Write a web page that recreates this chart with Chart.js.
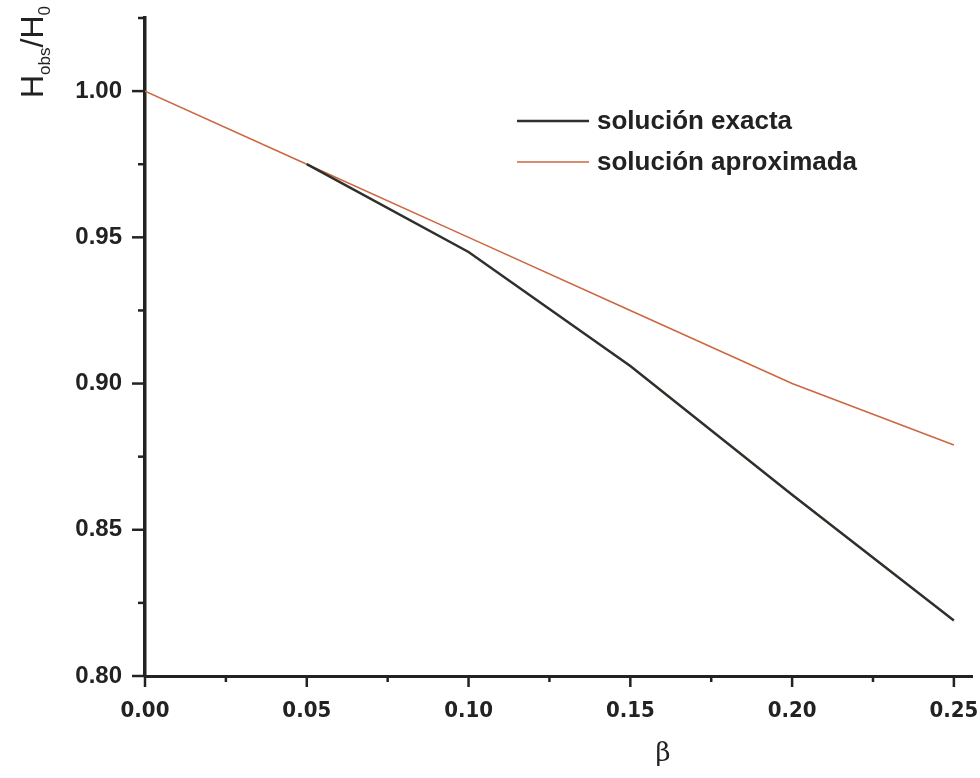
<!DOCTYPE html>
<html>
<head>
<meta charset="utf-8">
<script src="https://cdn.jsdelivr.net/npm/chart.js@4.4.0/dist/chart.umd.min.js"></script>
<style>
  html, body { margin: 0; padding: 0; background: #fff; }
  #wrap { width: 980px; height: 778px; }
</style>
</head>
<body>
<div id="wrap"><canvas id="grafico" width="980" height="778"></canvas></div>
<script>
// valores
const betaExacta = [0.05, 0.10, 0.15, 0.20, 0.25]
const hExacta = [0.975, 0.945, 0.906, 0.862, 0.819]
const betaAprox = [0.00, 0.05, 0.10, 0.15, 0.20, 0.25]
const hAprox = [1.000, 0.975, 0.950, 0.925, 0.900, 0.879]
const etiquetas = ['solución exacta', 'solución aproximada']
const colores = ['#2f302b', '#cc6640']

const ejeColor = '#222'

// ticks del eje (mayores y menores) dibujados a mano
const ticksPlugin = {
  id: 'ticksMenores',
  afterDraw(chart) {
    const ctx = chart.ctx
    const x = chart.scales.x
    const y = chart.scales.y
    const a = chart.chartArea
    ctx.save()
    ctx.strokeStyle = ejeColor
    ctx.lineWidth = 2.5
    for (let i = 0; i <= 10; i++) {
      const v = i * 0.025
      const px = x.getPixelForValue(v)
      const len = i % 2 == 0 ? 11 : 6
      ctx.beginPath()
      ctx.moveTo(px, a.bottom)
      ctx.lineTo(px, a.bottom + len)
      ctx.stroke()
    }
    for (let i = 0; i <= 9; i++) {
      const v = 0.80 + i * 0.025
      const py = y.getPixelForValue(v)
      const len = i % 2 == 0 ? 13 : 7
      ctx.beginPath()
      ctx.moveTo(a.left, py)
      ctx.lineTo(a.left - len, py)
      ctx.stroke()
    }
    ctx.restore()
  }
}

// titulos y leyenda
const textosPlugin = {
  id: 'textos',
  afterDraw(chart) {
    const ctx = chart.ctx
    ctx.save()
    ctx.fillStyle = ejeColor

    // titulo eje y: H_obs/H_0 girado
    ctx.translate(43, 98)
    ctx.rotate(-Math.PI / 2)
    ctx.textBaseline = 'alphabetic'
    ctx.textAlign = 'left'
    let cx = 0
    const partes = [['H', 32, 0], ['obs', 17, 7], ['/', 32, 0], ['H', 32, 0], ['0', 17, 7]]
    partes.forEach(p => {
      ctx.font = p[1] + 'px "Liberation Sans", Arial, sans-serif'
      ctx.fillText(p[0], cx, p[2])
      cx += ctx.measureText(p[0]).width
    })
    ctx.restore()

    // titulo eje x
    ctx.save()
    ctx.fillStyle = ejeColor
    ctx.font = '26px "DejaVu Serif", serif'
    ctx.textAlign = 'center'
    ctx.textBaseline = 'middle'
    ctx.fillText('β', 663, 754)

    // leyenda
    const filas = [121, 162]
    ctx.font = 'bold 26px "Liberation Sans", Arial, sans-serif'
    ctx.textAlign = 'left'
    chart.data.datasets.forEach((ds, i) => {
      ctx.strokeStyle = ds.borderColor
      ctx.lineWidth = ds.borderWidth
      ctx.beginPath()
      ctx.moveTo(517, filas[i])
      ctx.lineTo(589, filas[i])
      ctx.stroke()
      ctx.fillStyle = ejeColor
      ctx.fillText(ds.label, 597, filas[i] + 1)
    })
    ctx.restore()
  }
}

new Chart(document.getElementById('grafico'), {
  type: 'line',
  data: {
    datasets: [
      {
        label: etiquetas[0],
        data: betaExacta.map((b, i) => ({x: b, y: hExacta[i]})),
        borderColor: colores[0],
        borderWidth: 2.5,
        pointRadius: 0,
        tension: 0
      },
      {
        label: etiquetas[1],
        data: betaAprox.map((b, i) => ({x: b, y: hAprox[i]})),
        borderColor: colores[1],
        borderWidth: 1.5,
        pointRadius: 0,
        tension: 0
      }
    ]
  },
  options: {
    responsive: false,
    animation: false,
    layout: { padding: { top: 18, right: 8, left: 0, bottom: 0 } },
    plugins: {
      legend: { display: false },
      tooltip: { enabled: false }
    },
    scales: {
      x: {
        type: 'linear',
        min: 0,
        max: 0.2556,
        afterFit: (s) => { s.height = 102; s.paddingLeft = 0; s.paddingRight = 0 },
        grid: { display: false, drawTicks: false },
        border: { display: true, color: ejeColor, width: 3 },
        ticks: {
          stepSize: 0.05,
          includeBounds: false,
          padding: 22,
          color: ejeColor,
          maxRotation: 0,
          font: { family: '"DejaVu Sans Condensed", "Liberation Sans", Arial, sans-serif', weight: 'bold', size: 22 },
          callback: (v) => v.toFixed(2)
        }
      },
      y: {
        type: 'linear',
        min: 0.80,
        max: 1.025,
        afterFit: (s) => { s.width = 145; s.paddingTop = 0; s.paddingBottom = 0 },
        grid: { display: false, drawTicks: false },
        border: { display: true, color: ejeColor, width: 3.5 },
        ticks: {
          stepSize: 0.05,
          includeBounds: false,
          padding: 23,
          color: ejeColor,
          font: { family: '"Liberation Sans", Arial, sans-serif', weight: 'bold', size: 24 },
          callback: (v) => v.toFixed(2)
        }
      }
    }
  },
  plugins: [ticksPlugin, textosPlugin]
})
</script>
</body>
</html>
